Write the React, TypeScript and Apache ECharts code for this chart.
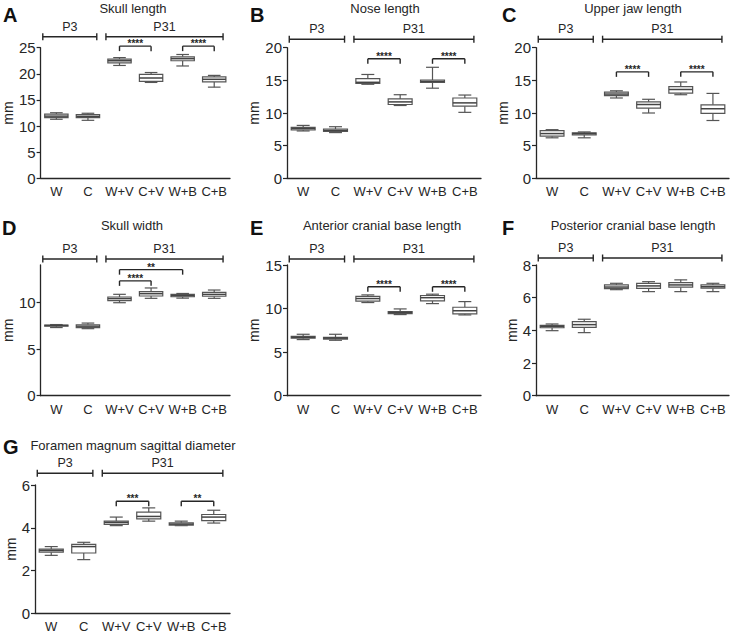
import React, { useEffect, useRef } from 'react';
import * as echarts from 'echarts';

const categories = ['W', 'C', 'W+V', 'C+V', 'W+B', 'C+B'];
const panelLetters = ['A', 'B', 'C', 'D', 'E', 'F', 'G'];
const panelTitles = [
  'Skull length',
  'Nose length',
  'Upper jaw length',
  'Skull width',
  'Anterior cranial base length',
  'Posterior cranial base length',
  'Foramen magnum sagittal diameter',
];
const groupLabels = ['P3', 'P31'];
// category index spans of the two age groups
const groupSpans = [[0, 1], [2, 5]];

// [min, Q1, median, Q3, max] for each category
const skullLength = [
  [11.3, 11.6, 11.9, 12.3, 12.55],
  [11.1, 11.6, 11.85, 12.2, 12.45],
  [21.6, 22.1, 22.5, 22.8, 23.1],
  [18.35, 18.55, 19.2, 19.9, 20.25],
  [21.5, 22.5, 22.9, 23.25, 23.7],
  [17.45, 18.45, 18.95, 19.4, 19.7],
];
const noseLength = [
  [7.25, 7.4, 7.6, 7.8, 8.1],
  [7.0, 7.2, 7.35, 7.55, 7.9],
  [14.4, 14.55, 14.7, 15.25, 15.9],
  [11.15, 11.3, 11.7, 12.15, 12.8],
  [13.8, 14.7, 14.85, 15.05, 17.0],
  [10.1, 11.05, 11.55, 12.3, 12.75],
];
const upperJawLength = [
  [6.2, 6.45, 6.85, 7.3, 7.45],
  [6.2, 6.65, 6.85, 6.95, 7.1],
  [12.3, 12.65, 12.9, 13.2, 13.4],
  [10.0, 10.75, 11.3, 11.7, 12.1],
  [12.8, 13.05, 13.6, 14.05, 14.75],
  [8.85, 9.95, 10.65, 11.25, 13.0],
];
const skullWidth = [
  [7.3, 7.45, 7.52, 7.56, 7.62],
  [7.18, 7.3, 7.45, 7.6, 7.78],
  [9.96, 10.18, 10.4, 10.57, 10.86],
  [10.43, 10.68, 10.93, 11.14, 11.54],
  [10.45, 10.6, 10.72, 10.85, 10.95],
  [10.43, 10.65, 10.85, 11.07, 11.32],
];
const anteriorCranialBase = [
  [6.44, 6.6, 6.7, 6.8, 7.05],
  [6.36, 6.48, 6.6, 6.7, 7.05],
  [10.69, 10.85, 11.15, 11.4, 11.57],
  [9.31, 9.43, 9.55, 9.65, 9.96],
  [10.57, 10.88, 11.25, 11.5, 11.65],
  [9.27, 9.4, 9.75, 10.15, 10.8],
];
const posteriorCranialBase = [
  [3.98, 4.16, 4.24, 4.3, 4.39],
  [3.86, 4.18, 4.35, 4.53, 4.68],
  [6.49, 6.56, 6.65, 6.78, 6.88],
  [6.37, 6.57, 6.72, 6.88, 6.98],
  [6.37, 6.64, 6.78, 6.92, 7.09],
  [6.37, 6.58, 6.67, 6.78, 6.88],
];
const foramenMagnum = [
  [2.71, 2.86, 2.94, 3.0, 3.12],
  [2.51, 2.82, 3.12, 3.22, 3.32],
  [4.1, 4.16, 4.25, 4.31, 4.5],
  [4.31, 4.42, 4.53, 4.73, 4.93],
  [4.1, 4.12, 4.17, 4.23, 4.31],
  [4.22, 4.33, 4.5, 4.62, 4.82],
];
const panelData = [skullLength, noseLength, upperJawLength, skullWidth, anteriorCranialBase, posteriorCranialBase, foramenMagnum];

const yMax = [25, 20, 20, 14, 15, 8, 6];
const yInterval = [5, 5, 5, 5, 5, 2, 2];
const yTicks = [
  [0, 5, 10, 15, 20, 25],
  [0, 5, 10, 15, 20],
  [0, 5, 10, 15, 20],
  [0, 5, 10],
  [0, 5, 10, 15],
  [0, 2, 4, 6, 8],
  [0, 2, 4, 6],
];

// significance brackets: [fromIndex, toIndex, yValue]
const sigA = [[2, 3, 25.3], [4, 5, 25.3]];
const sigB = [[2, 3, 18.3], [4, 5, 18.3]];
const sigC = [[2, 3, 16.3], [4, 5, 16.3]];
const sigD = [[2, 4, 13.5], [2, 3, 12.3]];
const sigE = [[2, 3, 12.5], [4, 5, 12.5]];
const sigF: number[][] = [];
const sigG = [[2, 3, 5.24], [4, 5, 5.24]];
const sigLabelsA = ['****', '****'];
const sigLabelsB = ['****', '****'];
const sigLabelsC = ['****', '****'];
const sigLabelsD = ['**', '****'];
const sigLabelsE = ['****', '****'];
const sigLabelsF: string[] = [];
const sigLabelsG = ['***', '**'];
const sigData = [sigA, sigB, sigC, sigD, sigE, sigF, sigG];
const sigLabels = [sigLabelsA, sigLabelsB, sigLabelsC, sigLabelsD, sigLabelsE, sigLabelsF, sigLabelsG];

// layout (pixels)
const gridRects = [
  { left: 35, top: 47.7, width: 195, height: 130.6 },
  { left: 287, top: 47.7, width: 194, height: 130.6 },
  { left: 536, top: 47.7, width: 193, height: 130.6 },
  { left: 35, top: 265, width: 195, height: 130.7 },
  { left: 287, top: 265, width: 194, height: 130.7 },
  { left: 536, top: 265, width: 193, height: 130.7 },
  { left: 35, top: 485, width: 195, height: 128.3 },
];
const groupOffsets = [11, 8.5, 8.5, 6, 6, 7, 11.7];
const titlePos = [
  [133, 8.5], [385, 8.5], [633, 8.5],
  [132, 225], [382, 225], [633, 225],
  [133, 445],
];
const letterPos = [
  [3, 15], [250, 15], [502, 15],
  [2, 228], [250, 228], [502, 228],
  [3, 447],
];

const FONT = "'Liberation Sans', Arial, Helvetica, sans-serif";
const INK = '#262626';
const BOX = '#555555';

export default function App() {
  const ref = useRef<HTMLDivElement>(null);

  useEffect(() => {
    if (!ref.current) return;
    const chart = echarts.init(ref.current, null, { renderer: 'svg' });

    const series: any[] = [];
    panelData.forEach((rows, p) => {
      series.push({
        type: 'custom',
        xAxisIndex: p,
        yAxisIndex: p,
        clip: false,
        encode: { x: 0, y: [1, 2, 3, 4, 5] },
        data: rows.map((r, i) => [i, ...r]),
        renderItem: (params: any, api: any) => {
          const idx = api.value(0);
          const vals = [1, 2, 3, 4, 5].map((k) => api.value(k));
          const x = api.coord([idx, vals[0]])[0];
          const ys = vals.map((v) => api.coord([idx, v])[1]);
          const band = api.size([1, 0])[0];
          const bw = band * 0.74;
          const cw = band * 0.4;
          const st = { stroke: BOX, lineWidth: 1.2, fill: 'none' };
          return {
            type: 'group',
            children: [
              { type: 'line', shape: { x1: x, y1: ys[0], x2: x, y2: ys[1] }, style: st },
              { type: 'line', shape: { x1: x, y1: ys[3], x2: x, y2: ys[4] }, style: st },
              { type: 'line', shape: { x1: x - cw / 2, y1: ys[0], x2: x + cw / 2, y2: ys[0] }, style: st },
              { type: 'line', shape: { x1: x - cw / 2, y1: ys[4], x2: x + cw / 2, y2: ys[4] }, style: st },
              {
                type: 'rect',
                shape: { x: x - bw / 2, y: ys[3], width: bw, height: Math.max(ys[1] - ys[3], 1) },
                style: { fill: '#ffffff', stroke: BOX, lineWidth: 1.2 },
              },
              {
                type: 'line',
                shape: { x1: x - bw / 2, y1: ys[2], x2: x + bw / 2, y2: ys[2] },
                style: { stroke: '#444', lineWidth: 1.5 },
              },
            ],
          };
        },
      });

      // group brackets P3 / P31
      series.push({
        type: 'custom',
        xAxisIndex: p,
        yAxisIndex: p,
        clip: false,
        z: 5,
        encode: { x: [0, 1], y: 2 },
        data: groupSpans.map((s) => [s[0], s[1], yMax[p]]),
        renderItem: (params: any, api: any) => {
          const band = api.size([1, 0])[0];
          const top = api.coord([api.value(0), api.value(2)])[1];
          const x1 = api.coord([api.value(0), api.value(2)])[0] - band * 0.43;
          const x2 = api.coord([api.value(1), api.value(2)])[0] + band * 0.28;
          const y = top - groupOffsets[p];
          const st = { stroke: INK, lineWidth: 1.4 };
          return {
            type: 'group',
            children: [
              { type: 'line', shape: { x1, y1: y, x2, y2: y }, style: st },
              { type: 'line', shape: { x1, y1: y - 3.5, x2: x1, y2: y + 3.5 }, style: st },
              { type: 'line', shape: { x1: x2, y1: y - 3.5, x2, y2: y + 3.5 }, style: st },
              {
                type: 'text',
                style: {
                  text: groupLabels[params.dataIndex],
                  x: (x1 + x2) / 2,
                  y: y - 10,
                  align: 'center',
                  verticalAlign: 'middle',
                  fontSize: 12.5,
                  fontFamily: FONT,
                  fill: INK,
                },
              },
            ],
          };
        },
      });

      if (sigData[p].length) {
        series.push({
          type: 'custom',
          xAxisIndex: p,
          yAxisIndex: p,
          clip: false,
          z: 5,
          encode: { x: [0, 1], y: 2 },
          data: sigData[p].map((s) => [s[0], s[1], s[2]]),
          renderItem: (params: any, api: any) => {
            const a = api.coord([api.value(0), api.value(2)]);
            const b = api.coord([api.value(1), api.value(2)]);
            const y = a[1];
            const st = { stroke: INK, lineWidth: 1.4 };
            return {
              type: 'group',
              children: [
                { type: 'line', shape: { x1: a[0], y1: y, x2: b[0], y2: y }, style: st },
                { type: 'line', shape: { x1: a[0], y1: y, x2: a[0], y2: y + 5 }, style: st },
                { type: 'line', shape: { x1: b[0], y1: y, x2: b[0], y2: y + 5 }, style: st },
                {
                  type: 'text',
                  style: {
                    text: sigLabels[p][params.dataIndex],
                    x: (a[0] + b[0]) / 2,
                    y: y - 2.5,
                    align: 'center',
                    verticalAlign: 'middle',
                    fontSize: 10,
                    fontWeight: 'bold',
                    fontFamily: FONT,
                    fill: INK,
                  },
                },
              ],
            };
          },
        });
      }
    });

    const graphic: any[] = [];
    panelTitles.forEach((t, p) => {
      graphic.push({
        type: 'text',
        x: titlePos[p][0],
        y: titlePos[p][1],
        style: { text: t, align: 'center', verticalAlign: 'middle', fontSize: 13, fontFamily: FONT, fill: INK },
      });
      graphic.push({
        type: 'text',
        x: letterPos[p][0],
        y: letterPos[p][1],
        style: {
          text: panelLetters[p],
          align: 'left',
          verticalAlign: 'middle',
          fontSize: 20,
          fontWeight: 'bold',
          fontFamily: FONT,
          fill: '#111',
        },
      });
    });

    const option: any = {
      animation: false,
      textStyle: { fontFamily: FONT },
      grid: gridRects.map((g) => ({ ...g, containLabel: false })),
      xAxis: gridRects.map((g, p) => ({
        type: 'category',
        gridIndex: p,
        data: categories,
        axisLine: { lineStyle: { color: INK, width: 1.3 } },
        axisTick: { alignWithLabel: true, length: 4, lineStyle: { color: INK, width: 1.2 } },
        axisLabel: { interval: 0, fontSize: 13, color: INK, margin: 7, fontFamily: FONT },
        splitLine: { show: false },
      })),
      yAxis: gridRects.map((g, p) => ({
        type: 'value',
        gridIndex: p,
        min: 0,
        max: yMax[p],
        interval: yInterval[p],
        name: 'mm',
        nameLocation: 'middle',
        nameGap: 17,
        nameRotate: 90,
        nameTextStyle: { fontSize: 14, color: INK, fontFamily: FONT },
        axisLine: { show: true, lineStyle: { color: INK, width: 1.3 } },
        axisTick: { show: true, length: 4, customValues: yTicks[p], lineStyle: { color: INK, width: 1.2 } },
        axisLabel: { fontSize: 15, color: INK, margin: 5, customValues: yTicks[p], fontFamily: FONT },
        splitLine: { show: false },
      })),
      series,
      graphic,
    };

    chart.setOption(option);
    return () => chart.dispose();
  }, []);

  return (
    <div
      ref={ref}
      style={{ position: 'fixed', left: 0, top: 0, width: 733, height: 634, background: '#fff' }}
    />
  );
}
